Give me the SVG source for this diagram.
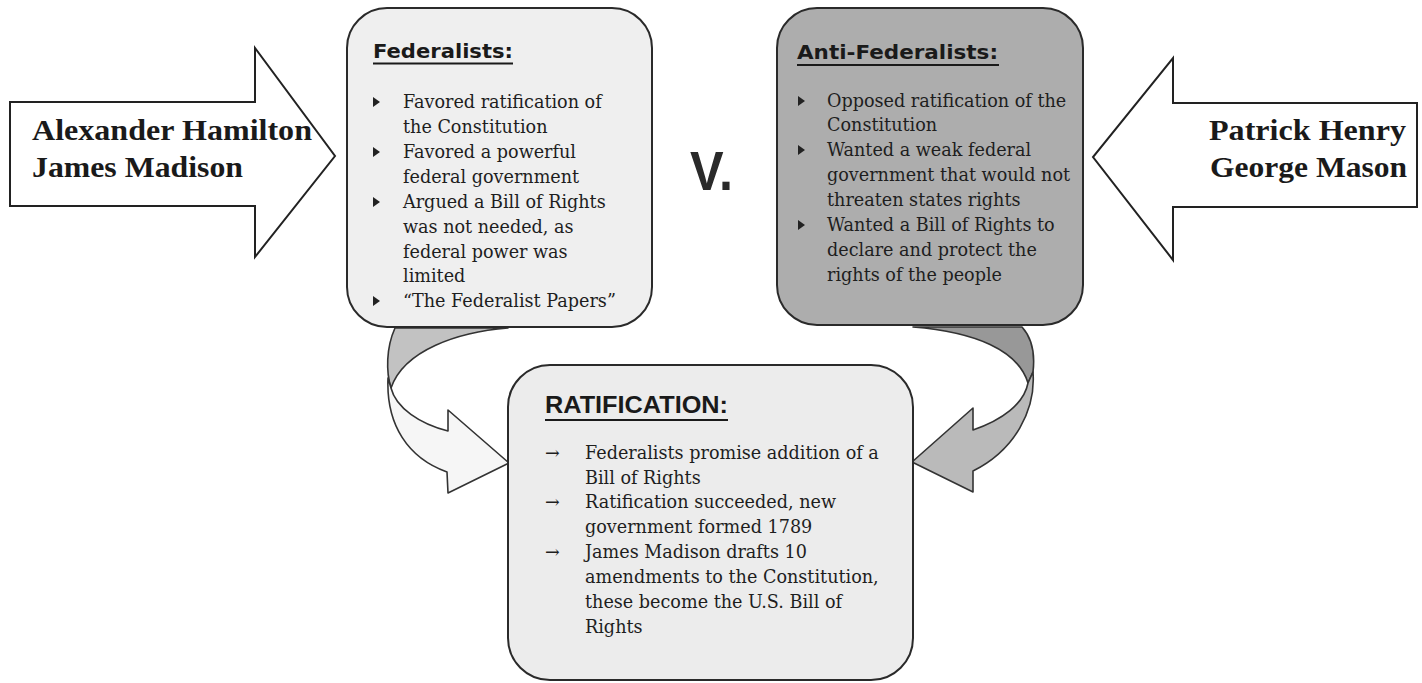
<svg xmlns="http://www.w3.org/2000/svg" width="1422" height="683" viewBox="0 0 1422 683">
<style>
.name{font-family:"Liberation Serif","Times New Roman",serif;font-weight:bold;font-size:29px;fill:#1a1a1a}
.title{font-family:"DejaVu Sans",Verdana,sans-serif;font-weight:bold;font-size:20px;fill:#1a1a1a}
.rtitle{font-family:"Liberation Sans",Arial,sans-serif;font-weight:bold;font-size:24px;fill:#1a1a1a}
.body{font-family:"DejaVu Serif","Liberation Serif",serif;font-size:17.6px;fill:#1e1e1e}
.box{stroke:#2a2a2a;stroke-width:2}
.big{fill:#fff;stroke:#222;stroke-width:2}
.ul{stroke:#1a1a1a;stroke-width:2.2}
.bul{fill:#222}
.cur{stroke:#333;stroke-width:1.6;stroke-linejoin:round}
</style>
<rect width="1422" height="683" fill="#fff"/>

<g id="connectors">
  <!-- left curved arrow: back (shaded) part -->
  <path class="cur" fill="#c2c2c2" d="M395,328 L508,328 C458,332 404,350 391,388 C386,372 386,348 395,328 Z"/>
  <!-- left curved arrow: front part -->
  <path class="cur" fill="#f6f6f6" d="M388,378 C386,425 408,458 447,472 L448,493 L509,463 L448,410 L448,431 C420,424 396,408 391,388 Z"/>
  <!-- right curved arrow: back (shaded) part -->
  <path class="cur" fill="#989898" d="M913,327 L1022,327 C1032,338 1035,355 1033,372 L1028,383 C1018,350 975,332 913,327 Z"/>
  <!-- right curved arrow: front part -->
  <path class="cur" fill="#bababa" d="M1033,372 C1036,410 1015,450 973,471 L973,492 L912,462 L973,408 L973,430 C1002,420 1024,404 1028,383 Z"/>
</g>

<g id="hamilton-madison">
  <polygon class="big" points="10,102 255,102 255,48 335,156 255,257 255,206 10,206"/>
  <text class="name" x="32" y="140" textLength="280" lengthAdjust="spacingAndGlyphs">Alexander Hamilton</text>
  <text class="name" x="32" y="177" textLength="211" lengthAdjust="spacingAndGlyphs">James Madison</text>
</g>

<g id="henry-mason">
  <polygon class="big" points="1417,103 1173,103 1173,58 1093,157 1173,260 1173,207 1417,207"/>
  <text class="name" x="1406" y="140" text-anchor="end" textLength="197" lengthAdjust="spacingAndGlyphs">Patrick Henry</text>
  <text class="name" x="1407" y="177" text-anchor="end" textLength="197" lengthAdjust="spacingAndGlyphs">George Mason</text>
</g>

<g id="federalists">
  <rect class="box" x="347" y="8" width="305" height="319" rx="40" fill="#efefef"/>
  <text class="title" x="373" y="58" textLength="140" lengthAdjust="spacingAndGlyphs">Federalists:</text>
  <line class="ul" x1="373" y1="63.5" x2="513" y2="63.5"/>
  <polygon class="bul" points="373,97 380,102 373,107"/>
  <polygon class="bul" points="373,147 380,152 373,157"/>
  <polygon class="bul" points="373,197 380,202 373,207"/>
  <polygon class="bul" points="373,296 380,301 373,306"/>
  <text class="body" x="403" y="108">Favored ratification of</text>
  <text class="body" x="403" y="133">the Constitution</text>
  <text class="body" x="403" y="158">Favored a powerful</text>
  <text class="body" x="403" y="183">federal government</text>
  <text class="body" x="403" y="208">Argued a Bill of Rights</text>
  <text class="body" x="403" y="233">was not needed, as</text>
  <text class="body" x="403" y="258">federal power was</text>
  <text class="body" x="403" y="282">limited</text>
  <text class="body" x="403" y="307">“The Federalist Papers”</text>
</g>

<g id="versus">
  <text x="690" y="190" font-family="Liberation Sans, Arial, sans-serif" font-weight="bold" font-size="55" fill="#2a2a2a" textLength="43" lengthAdjust="spacingAndGlyphs">V.</text>
</g>

<g id="anti-federalists">
  <rect class="box" x="777" y="8" width="306" height="317" rx="40" fill="#adadad"/>
  <text class="title" x="797" y="59" textLength="201" lengthAdjust="spacingAndGlyphs">Anti-Federalists:</text>
  <line class="ul" x1="797" y1="65" x2="999" y2="65"/>
  <polygon class="bul" points="798,96 805,101 798,106"/>
  <polygon class="bul" points="798,145 805,150 798,155"/>
  <polygon class="bul" points="798,220 805,225 798,230"/>
  <text class="body" x="827" y="107">Opposed ratification of the</text>
  <text class="body" x="827" y="131">Constitution</text>
  <text class="body" x="827" y="156">Wanted a weak federal</text>
  <text class="body" x="827" y="181">government that would not</text>
  <text class="body" x="827" y="206">threaten states rights</text>
  <text class="body" x="827" y="231">Wanted a Bill of Rights to</text>
  <text class="body" x="827" y="256">declare and protect the</text>
  <text class="body" x="827" y="281">rights of the people</text>
</g>

<g id="ratification">
  <rect class="box" x="508" y="365" width="405" height="315" rx="42" fill="#ececec"/>
  <text class="rtitle" x="545" y="413" textLength="183" lengthAdjust="spacingAndGlyphs">RATIFICATION:</text>
  <line class="ul" x1="545" y1="420" x2="728" y2="420"/>
  <text class="body" x="545" y="459">→</text>
  <text class="body" x="545" y="508">→</text>
  <text class="body" x="545" y="558">→</text>
  <text class="body" x="585" y="459">Federalists promise addition of a</text>
  <text class="body" x="585" y="484">Bill of Rights</text>
  <text class="body" x="585" y="508">Ratification succeeded, new</text>
  <text class="body" x="585" y="533">government formed 1789</text>
  <text class="body" x="585" y="558">James Madison drafts 10</text>
  <text class="body" x="585" y="583">amendments to the Constitution,</text>
  <text class="body" x="585" y="608">these become the U.S. Bill of</text>
  <text class="body" x="585" y="633">Rights</text>
</g>
</svg>
